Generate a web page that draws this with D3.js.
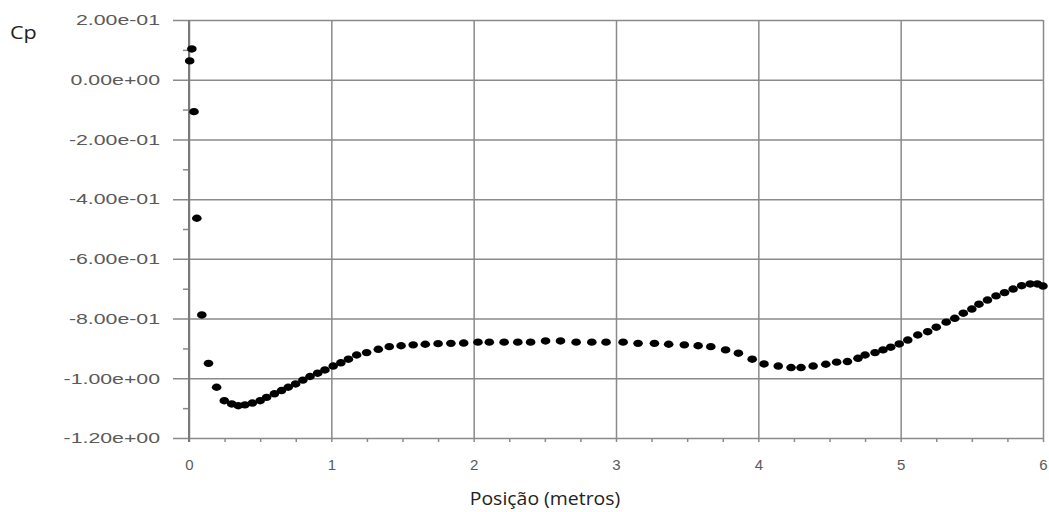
<!DOCTYPE html>
<html lang="en">
<head>
  <meta charset="UTF-8">
  <title>Cp x Posição</title>
  <script src="https://d3js.org/d3.v7.min.js"></script>
</head>
<style>
  body{
    margin:0;
    background:white;
    font-family: "Liberation Sans", Arial, sans-serif;
  }
  .tick text{
    fill:#5a5a5a;
    font-family:"Liberation Sans", Arial, sans-serif;
  }
  .title{
    fill:#222;
    font-family:"Open Sans", "Noto Sans", sans-serif;
  }
</style>
<body>
<div id="chart"></div>
<script>
// x position (metres) of each pressure tap
var posicao = [0.005, 0.02, 0.035, 0.055, 0.09, 0.137, 0.194, 0.248, 0.30, 0.346,
  0.393, 0.445, 0.50, 0.545, 0.60, 0.65, 0.697, 0.749, 0.80, 0.85,
  0.904, 0.955, 1.013, 1.067, 1.12, 1.178, 1.248, 1.33, 1.407, 1.49,
  1.575, 1.66, 1.75, 1.84, 1.93, 2.03, 2.11, 2.214, 2.31, 2.40,
  2.505, 2.61, 2.72, 2.83, 2.93, 3.05, 3.155, 3.27, 3.37, 3.48,
  3.577, 3.666, 3.77, 3.86, 3.957, 4.04, 4.14, 4.23, 4.30, 4.385,
  4.474, 4.55, 4.626, 4.70, 4.75, 4.82, 4.876, 4.93, 4.99, 5.05,
  5.12, 5.19, 5.25, 5.32, 5.38, 5.44, 5.50, 5.55, 5.61, 5.67,
  5.73, 5.79, 5.85, 5.91, 5.96, 6.0];

// pressure coefficient at each position
var cp = [0.063, 0.103, -0.107, -0.464, -0.788, -0.95, -1.03, -1.075, -1.086, -1.092,
  -1.089, -1.083, -1.075, -1.064, -1.052, -1.041, -1.030, -1.019, -1.006, -0.994,
  -0.983, -0.972, -0.959, -0.948, -0.936, -0.922, -0.914, -0.903, -0.894, -0.891,
  -0.888, -0.886, -0.884, -0.883, -0.882, -0.879, -0.879, -0.879, -0.879, -0.879,
  -0.875, -0.875, -0.879, -0.879, -0.879, -0.879, -0.883, -0.883, -0.886, -0.888,
  -0.891, -0.894, -0.905, -0.916, -0.936, -0.952, -0.959, -0.964, -0.964, -0.959,
  -0.953, -0.946, -0.944, -0.933, -0.922, -0.914, -0.905, -0.896, -0.885, -0.872,
  -0.855, -0.844, -0.829, -0.812, -0.799, -0.782, -0.768, -0.752, -0.738, -0.724,
  -0.713, -0.701, -0.690, -0.684, -0.684, -0.691];

// axis ticks and their labels
var yTicks = [0.2, 0, -0.2, -0.4, -0.6, -0.8, -1.0, -1.2];
var yTickLabels = ["2.00e-01", "0.00e+00", "-2.00e-01", "-4.00e-01", "-6.00e-01", "-8.00e-01", "-1.00e+00", "-1.20e+00"];
var yMinor = [0.1, -0.1, -0.3, -0.5, -0.7, -0.9, -1.1];
var xTicks = [0, 1, 2, 3, 4, 5, 6];
var xTickLabels = ["0", "1", "2", "3", "4", "5", "6"];
var xMinor = [0.25, 0.5, 0.75, 1.25, 1.5, 1.75, 2.25, 2.5, 2.75, 3.25, 3.5, 3.75,
  4.25, 4.5, 4.75, 5.25, 5.5, 5.75];

var data = posicao.map(function(d, i){ return {x: d, y: cp[i]}; });

var W = 1049, H = 512;
var margin = {left: 189, top: 20, right: 6, bottom: 74};
var width = W - margin.left - margin.right;
var height = H - margin.top - margin.bottom;
var gridColour = "#8a8a8a";

var svg = d3.select("#chart").append("svg")
  .attr("width", W)
  .attr("height", H);

var g = svg.append("g")
  .attr("transform", "translate(" + margin.left + "," + margin.top + ")");

var xScale = d3.scaleLinear().domain([0, 6]).range([0, width]);
var yScale = d3.scaleLinear().domain([-1.2, 0.2]).range([height, 0]);

// y axis with gridlines stretching across the plot
var yAxis = d3.axisLeft(yScale)
  .tickValues(yTicks)
  .tickFormat(function(d, i){ return yTickLabels[i]; })
  .tickSizeInner(-width)
  .tickSizeOuter(0);

var yG = g.append("g").call(yAxis);
yG.select(".domain").remove();
yG.selectAll(".tick line")
  .attr("x1", -16)
  .attr("x2", width)
  .attr("stroke", gridColour)
  .attr("stroke-width", 1.5);
// the labels in the original are wide, so stretch them sideways
yG.selectAll(".tick text")
  .attr("x", 0)
  .attr("font-size", "15px")
  .attr("transform", "translate(-29,0) scale(1.42,1)");

// y minor ticks
g.append("g")
  .call(d3.axisLeft(yScale).tickValues(yMinor).tickFormat("").tickSizeInner(6).tickSizeOuter(0))
  .call(function(s){ s.select(".domain").remove(); })
  .selectAll(".tick line")
  .attr("stroke", gridColour)
  .attr("stroke-width", 1.5);

// x axis with vertical gridlines
var xAxis = d3.axisBottom(xScale)
  .tickValues(xTicks)
  .tickFormat(function(d, i){ return xTickLabels[i]; })
  .tickSizeInner(-height)
  .tickSizeOuter(0)
  .tickPadding(21);

var xG = g.append("g")
  .attr("transform", "translate(0," + height + ")")
  .call(xAxis);
xG.select(".domain").remove();
xG.selectAll(".tick line")
  .attr("y1", 4)
  .attr("y2", -height)
  .attr("stroke", gridColour)
  .attr("stroke-width", 1.5);
xG.selectAll(".tick text")
  .attr("font-size", "15px");

// x minor ticks
g.append("g")
  .attr("transform", "translate(0," + height + ")")
  .call(d3.axisBottom(xScale).tickValues(xMinor).tickFormat("").tickSizeInner(4).tickSizeOuter(0))
  .call(function(s){ s.select(".domain").remove(); })
  .selectAll(".tick line")
  .attr("stroke", gridColour)
  .attr("stroke-width", 1.5);

// thicker y axis line at x = 0
g.append("line")
  .attr("x1", xScale(0)).attr("x2", xScale(0))
  .attr("y1", 0).attr("y2", height + 4)
  .attr("stroke", "#7a7a7a")
  .attr("stroke-width", 2);

// points
g.selectAll("ellipse")
  .data(data)
  .enter()
  .append("ellipse")
  .attr("cx", function(d){ return xScale(d.x); })
  .attr("cy", function(d){ return yScale(d.y); })
  .attr("rx", 4.8)
  .attr("ry", 3.7)
  .attr("fill", "#000");

// titles
svg.append("text")
  .attr("class", "title")
  .attr("font-size", "18px")
  .attr("transform", "translate(10,39) scale(1.2,1)")
  .text("Cp");

svg.append("text")
  .attr("class", "title")
  .attr("font-size", "18px")
  .attr("text-anchor", "middle")
  .attr("transform", "translate(545,505) scale(1.08,1)")
  .text("Posição (metros)");
</script>
</body>
</html>
